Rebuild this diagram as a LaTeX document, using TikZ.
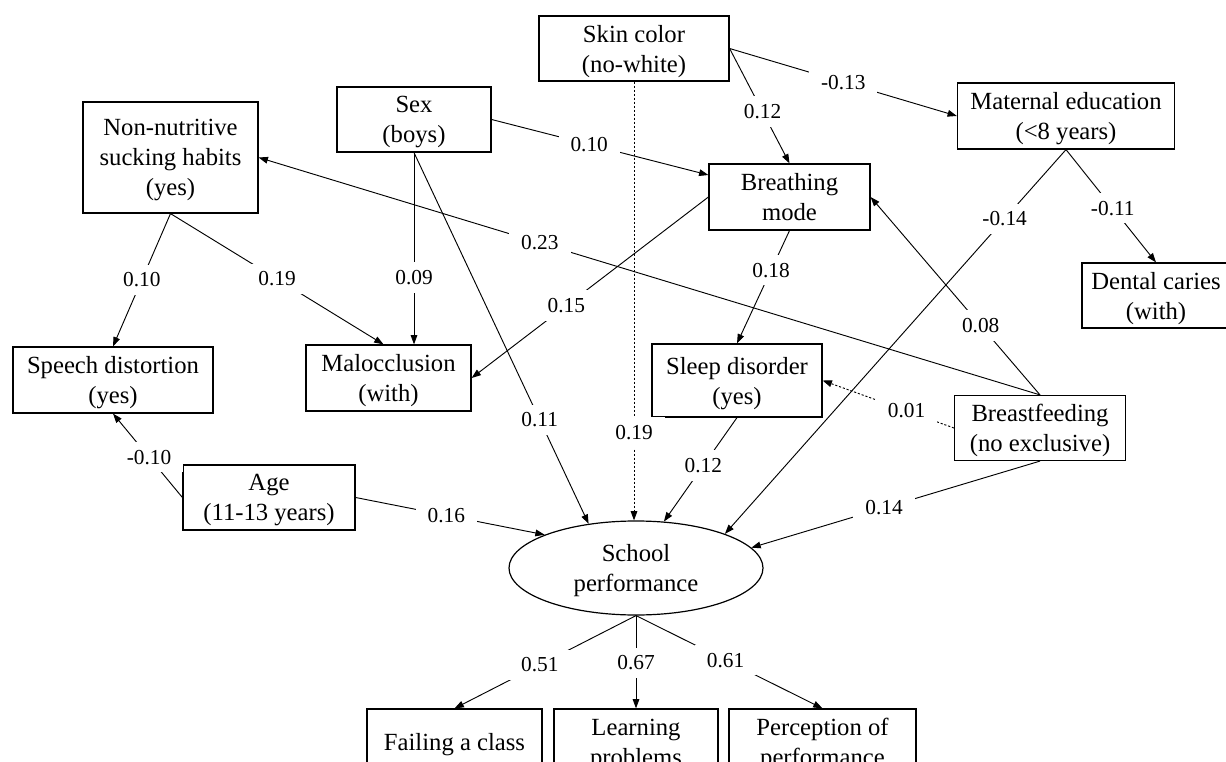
\documentclass[tikz,border=0pt]{standalone}
\usepackage{fontspec}
\setmainfont{Liberation Serif}
\usetikzlibrary{arrows.meta,calc,shapes.geometric,positioning}

\begin{document}
\begin{tikzpicture}[x=0.75pt, y=-0.75pt]
    \tikzset{box/.style 2 args={draw, line width=0.9pt, align=center, inner sep=0pt,
        font=\fontsize{18.5}{22.5}\selectfont, text depth=0pt,
        minimum width=#1*0.75pt, minimum height=#2*0.75pt},
      lbl/.style={fill=white, inner xsep=9pt, inner ysep=6pt,
        font=\fontsize{16}{19}\selectfont},
      EdgeStyle/.style={-{Triangle[length=7pt,width=5pt]}, line width=0.7pt},
      DotStyle/.style={EdgeStyle, dash pattern=on 1.6pt off 1.4pt}}
    \useasboundingbox (0,0) rectangle (1226,762);
    % variables
    \node[box={190}{65}] (sk) at (634,48.5) {Skin color\\(no-white)};
    \node[box={154}{65}] (sx) at (414,119.5) {Sex\\(boys)};
    \node[box={175}{111}] (nn) at (170.5,157.5) {Non-nutritive\\sucking habits\\(yes)};
    \node[box={200}{66}] (sd) at (113,380) {Speech distortion\\(yes)};
    \node[box={165}{66}] (mo) at (388.5,378) {Malocclusion\\(with)};
    \node[box={161}{66}] (br) at (789.5,197) {Breathing\\mode};
    \node[box={217}{66}] (me) at (1066,116) {Maternal education\\(<8 years)};
    \node[box={148}{65}] (dc) at (1156,295.5) {Dental caries\\(with)};
    \node[box={170}{73}] (sl) at (737,380.5) {Sleep disorder\\(yes)};
    \node[box={171}{65}] (bf) at (1040,428) {Breastfeeding\\(no exclusive)};
    \node[box={172}{65}] (ag) at (269,497.5) {Age\\(11-13 years)};
    \node[draw, ellipse, line width=0.9pt, inner sep=0pt, align=center,
      font=\fontsize{18.5}{22.5}\selectfont, text depth=0pt,
      minimum width=190.5pt, minimum height=70.5pt] (sp) at (636,568) {School\\performance};
    \node[box={175}{66}] (fc) at (454.5,742) {Failing a class};
    \node[box={164}{66}] (lp) at (636,742) {Learning\\problems};
    \node[box={187}{66}] (pp) at (822.5,742) {Perception of\\performance};
    % paths
    \draw[EdgeStyle] (sk.east) -- node[lbl, pos=.55] {0.12} (br.north);
    \draw[EdgeStyle] (sk.east) -- node[lbl, pos=.5] {-0.13} (me.west);
    \draw[DotStyle] (sk.south) -- node[lbl, pos=.8] {0.19} (sk.south |- sp.north);
    \draw[EdgeStyle] (sx.east) -- node[lbl, pos=.45] {0.10} ($(br.west)+(0,-22)$);
    \draw[EdgeStyle] (sx.south) -- node[lbl, pos=.65] {0.09} (sx.south |- mo.north);
    \draw[EdgeStyle] (sx.south) -- node[lbl, pos=.72] {0.11} (sp.137);
    \draw[EdgeStyle] (nn.south) -- node[lbl, pos=.5] {0.10} (sd.north);
    \draw[EdgeStyle] (nn.south) -- node[lbl, pos=.5] {0.19} ($(mo.north)+(-5,0)$);
    \draw[EdgeStyle] (bf.north) -- node[lbl, pos=.64] {0.23} (nn.east);
    \draw[EdgeStyle] (bf.north) -- node[lbl, pos=.35] {0.08} (br.east);
    \draw[EdgeStyle] (br.west) -- node[lbl, pos=.6] {0.15} (mo.east);
    \draw[EdgeStyle] (br.south) -- node[lbl, pos=.35] {0.18} (sl.north);
    \draw[EdgeStyle] (sl.south) -- node[lbl, pos=.46] {0.12} (sp.59);
    \draw[EdgeStyle] (me.south) -- node[lbl, pos=.52] {-0.11} (dc.north);
    \draw[EdgeStyle] (me.south) -- node[lbl, pos=.18] {-0.14} (sp.21);
    \draw[DotStyle] (bf.west) -- node[lbl, pos=.36] {0.01} (sl.east);
    \draw[EdgeStyle] (bf.south) -- node[lbl, pos=.54] {0.14} (sp.10);
    \draw[EdgeStyle] (ag.west) -- node[lbl, pos=.48] {-0.10} (sd.south);
    \draw[EdgeStyle] (ag.east) -- node[lbl, pos=.48] {0.16} (sp.160);
    \draw[EdgeStyle] (sp.south) -- node[lbl, pos=.53] {0.51} (fc.north);
    \draw[EdgeStyle] (sp.south) -- node[lbl, pos=.51] {0.67} (lp.north);
    \draw[EdgeStyle] (sp.south) -- node[lbl, pos=.48] {0.61} (pp.north);
\end{tikzpicture}
\end{document}
